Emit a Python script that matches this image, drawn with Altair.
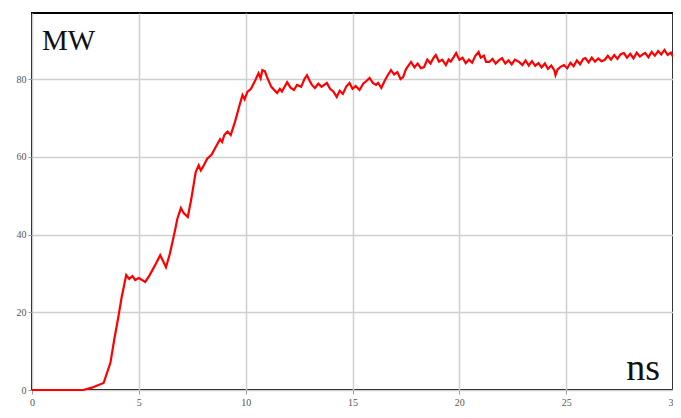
import altair as alt
import pandas as pd

time_ns = [0, 1, 2, 2.4, 2.8, 3.35, 3.67, 3.85, 4.04, 4.2, 4.41, 4.55, 4.7, 4.83, 5.0, 5.3, 5.5, 5.75,
           6.0, 6.15, 6.27, 6.45, 6.69, 6.8, 6.97, 7.1, 7.29, 7.45, 7.66, 7.8, 7.9, 8.0, 8.2, 8.4, 8.6,
           8.8, 8.9, 9.0, 9.15, 9.3, 9.5, 9.7, 9.85, 9.95, 10.08, 10.25, 10.45, 10.6, 10.7, 10.78, 10.9,
           11.0, 11.2, 11.47, 11.6, 11.7, 11.94, 12.1, 12.26, 12.4, 12.6, 12.75, 12.87, 13.0, 13.1,
           13.24, 13.4, 13.55, 13.8, 13.95, 14.1, 14.26, 14.4, 14.55, 14.7, 14.86, 15.0, 15.15, 15.33,
           15.5, 15.65, 15.8, 15.95, 16.1, 16.2, 16.35, 16.5, 16.65, 16.8, 16.95, 17.1, 17.25, 17.37,
           17.5, 17.6, 17.74, 17.9, 18.05, 18.2, 18.35, 18.5, 18.65, 18.8, 18.9, 19.05, 19.2, 19.37,
           19.5, 19.6, 19.74, 19.85, 20.0, 20.15, 20.3, 20.45, 20.6, 20.75, 20.9, 21.0, 21.15, 21.25,
           21.4, 21.55, 21.7, 21.85, 22.0, 22.15, 22.3, 22.45, 22.6, 22.8, 22.95, 23.1, 23.25, 23.4,
           23.55, 23.7, 23.85, 24.0, 24.15, 24.3, 24.45, 24.5, 24.6, 24.75, 24.9, 25.05, 25.2, 25.35,
           25.5, 25.65, 25.8, 25.9, 26.05, 26.2, 26.35, 26.5, 26.65, 26.8, 26.95, 27.1, 27.25, 27.4,
           27.55, 27.7, 27.85, 28.0, 28.15, 28.3, 28.45, 28.6, 28.7, 28.85, 29.0, 29.15, 29.3, 29.45,
           29.6, 29.75, 29.9, 30.0]

power_mw = [0, 0, 0, 0, 0.6, 1.8, 7, 13, 18.8, 24, 29.6, 28.6, 29.3, 28.3, 28.8, 27.8, 29.5, 32,
            34.7, 33, 31.6, 35, 41, 44, 46.8, 45.5, 44.5, 49, 56, 57.8, 56.5, 57.4, 59.5, 60.5, 62.5,
            64.5, 63.8, 65.6, 66.5, 65.6, 69, 73, 75.9, 74.8, 76.7, 77.5, 79.7, 81.5, 80.2, 82.3, 82,
            80.5, 78, 76.4, 77.5, 76.8, 79.2, 77.8, 77.2, 78.5, 78, 80, 81, 79.5, 78.5,
            77.7, 78.8, 78, 79, 77.5, 76.8, 75.4, 77, 76.2, 78, 79, 77.5, 78.2, 77.2,
            78.8, 79.5, 80.3, 79, 78.5, 79, 77.7, 79.5, 81, 82.3, 81.2, 81.8, 80, 80.5,
            82.5, 83.3, 84.4, 83, 84, 82.8, 83.1, 85, 84, 85.5, 86.2, 84.5, 85, 83.6,
            85, 84.5, 85.7, 86.7, 85, 85.5, 84.1, 85, 84.2, 86, 87, 85.5, 86, 84.4,
            84.4, 85.2, 84, 84.8, 85.4, 84, 84.8, 83.8, 85, 84.4, 83.6, 84.8, 83.5, 84.6,
            83.4, 84.1, 83, 84, 82.6, 83.5, 82.2, 81, 82.5, 83.2, 83.6, 82.8, 84.2, 83.3,
            84.8, 83.8, 85.2, 85.4, 84.3, 85.5, 84.5, 85.3, 84.6, 84.9, 86, 85, 86.2, 85.2,
            86.4, 86.7, 85.5, 86.5, 85.3, 86.8, 85.8, 86.4, 86.7, 85.6, 87, 86, 87.2, 86.3,
            87.5, 86.2, 86.8, 85.8]

x_ticks = [0, 5, 10, 15, 20, 25, 30]
y_ticks = [0, 20, 40, 60, 80]

df = pd.DataFrame({"t": time_ns, "p": power_mw})

x_enc = alt.X("t:Q", scale=alt.Scale(domain=[0, 30], nice=False, zero=False),
              axis=alt.Axis(values=x_ticks, title=None, domain=False, grid=True,
                            gridColor="#cfcfcf", gridWidth=1.5, tickColor="#999",
                            tickSize=4, labelPadding=3, labelFont="Liberation Serif",
                            labelFontSize=10, labelColor="#555", labelFlush=False))
y_enc = alt.Y("p:Q", scale=alt.Scale(domain=[0, 97], nice=False),
              axis=alt.Axis(values=y_ticks, title=None, domain=False, grid=True,
                            gridColor="#cfcfcf", gridWidth=1.5, tickColor="#999",
                            tickSize=4, labelPadding=2, labelFont="Liberation Serif",
                            labelFontSize=10, labelColor="#555"))

line = alt.Chart(df).mark_line(color="#ff0000", strokeWidth=2.2).encode(x=x_enc, y=y_enc)

mw = alt.Chart(pd.DataFrame({"label": ["MW"]})).mark_text(
    font="Liberation Serif", fontSize=29, color="#111", align="left", baseline="alphabetic"
).encode(x=alt.value(10), y=alt.value(37), text="label:N")

ns = alt.Chart(pd.DataFrame({"label": ["ns"]})).mark_text(
    font="Liberation Serif", fontSize=38, color="#111", align="right", baseline="alphabetic"
).encode(x=alt.value(628), y=alt.value(367), text="label:N")

chart = alt.layer(line, mw, ns).properties(
    width=641, height=377,
    autosize=alt.AutoSizeParams(type="none"),
    padding={"left": 24, "top": 5, "right": 0, "bottom": 16},
).configure_view(stroke="#000", strokeWidth=2)

chart.save("out.html", embed_options={"renderer": "svg", "actions": False})
